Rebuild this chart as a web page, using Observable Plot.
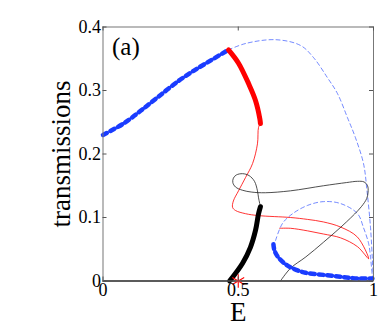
<!DOCTYPE html>
<html><head><meta charset="utf-8">
<script src="https://cdn.jsdelivr.net/npm/d3@7"></script>
<script src="https://cdn.jsdelivr.net/npm/@observablehq/plot@0.6"></script>
<style>body{margin:0;background:#fff}</style>
</head><body><div id="chart"></div>
<script>
// x ticks / y ticks
const xTicks = [0, 0.5, 1];
const yTicks = [0, 0.1, 0.2, 0.3, 0.4];

// thick blue dotted branch (stable, left)
const blueThickE = [0, 0.076, 0.139, 0.201, 0.279, 0.335, 0.397, 0.464];
const blueThickT = [0.23, 0.248, 0.268, 0.289, 0.315, 0.331, 0.347, 0.364];
// thick red branch
const redThickE = [0.464, 0.501, 0.538, 0.564, 0.580, 0.582];
const redThickT = [0.364, 0.343, 0.311, 0.284, 0.255, 0.248];
// thin dashed outer blue branch
const blueDashE = [0.464, 0.527, 0.638, 0.730, 0.778, 0.830, 0.867, 0.904, 0.933, 0.963, 0.976, 0.989, 0.996, 1.0];
const blueDashT = [0.364, 0.374, 0.380, 0.371, 0.352, 0.320, 0.295, 0.257, 0.226, 0.185, 0.142, 0.084, 0.032, 0.0];
// thin red branch with loop and cusp
const redThinE = [0.582, 0.575, 0.571, 0.553, 0.527, 0.501, 0.482, 0.479, 0.490, 0.527, 0.575, 0.693, 0.756, 0.815, 0.878, 0.941, 0.982, 0.941, 0.878, 0.815, 0.756, 0.693, 0.653];
const redThinT = [0.248, 0.242, 0.216, 0.185, 0.163, 0.142, 0.126, 0.116, 0.111, 0.106, 0.103, 0.100, 0.097, 0.093, 0.085, 0.069, 0.035, 0.054, 0.068, 0.074, 0.079, 0.083, 0.083];
// thick black branch
const blackThickE = [0.468, 0.516, 0.545, 0.564, 0.575, 0.582];
const blackThickT = [0.0, 0.028, 0.053, 0.080, 0.106, 0.117];
// thin black branch with loop
const blackThinE = [0.582, 0.575, 0.571, 0.560, 0.540, 0.516, 0.493, 0.482, 0.480, 0.490, 0.515, 0.550, 0.600, 0.693, 0.815, 0.900, 0.941, 0.965, 0.978, 0.980, 0.975, 0.955, 0.900, 0.815, 0.750, 0.693, 0.656];
const blackThinT = [0.117, 0.131, 0.142, 0.157, 0.166, 0.169, 0.167, 0.162, 0.155, 0.148, 0.143, 0.140, 0.139, 0.142, 0.150, 0.155, 0.157, 0.156, 0.150, 0.140, 0.130, 0.117, 0.093, 0.061, 0.038, 0.020, 0.0];
// inner thin dashed blue branch
const blueInnerDashE = [0.638, 0.664, 0.701, 0.756, 0.815, 0.878, 0.941, 0.963, 0.982, 0.989, 0.996];
const blueInnerDashT = [0.064, 0.091, 0.106, 0.119, 0.125, 0.122, 0.106, 0.084, 0.059, 0.037, 0.006];
// inner thick blue dotted branch
const blueInnerE = [0.630, 0.634, 0.645, 0.667, 0.701, 0.749, 0.830, 0.889, 0.941, 0.996];
const blueInnerT = [0.058, 0.048, 0.039, 0.029, 0.020, 0.013, 0.009, 0.006, 0.004, 0.004];
// marker
const starE = [0.5];
const starT = [0];

const pts = (E, T) => E.map((e, i) => ({E: e, T: T[i]}));

const W = 382, H = 327;
const mL = 102.5, mR = 9, mT = 26.5, mB = 46.5;
const pw = W - mL - mR, ph = H - mT - mB;
const serif = "Liberation Serif, Times New Roman, serif";

const chart = Plot.plot({
  width: W, height: H,
  marginLeft: mL, marginRight: mR, marginTop: mT, marginBottom: mB,
  style: {fontFamily: serif, fontSize: "18px", background: "#fff", overflow: "visible"},
  x: {domain: [0, 1]},
  y: {domain: [0, 0.4]},
  marks: [
    Plot.ruleY([0], {stroke: "#000", strokeWidth: 1.3}),
    Plot.line(pts(blueDashE, blueDashT), {x: "E", y: "T", stroke: "#3050ff", strokeWidth: 0.9, strokeDasharray: "4,3", curve: "catmull-rom", strokeOpacity: 0.75}),
    Plot.line(pts(blueInnerDashE, blueInnerDashT), {x: "E", y: "T", stroke: "#3050ff", strokeWidth: 0.9, strokeDasharray: "4,3", curve: "catmull-rom", strokeOpacity: 0.75}),
    Plot.line(pts(redThinE, redThinT), {x: "E", y: "T", stroke: "#ff0000", strokeWidth: 0.8, curve: "catmull-rom"}),
    Plot.line(pts(blackThinE, blackThinT), {x: "E", y: "T", stroke: "#222", strokeWidth: 0.8, curve: "catmull-rom"}),
    Plot.line(pts(blueThickE, blueThickT), {x: "E", y: "T", stroke: "#1a3cff", strokeWidth: 4.5, strokeDasharray: "4.5,4", curve: "catmull-rom"}),
    Plot.line(pts(blueInnerE, blueInnerT), {x: "E", y: "T", stroke: "#1a3cff", strokeWidth: 4.5, strokeDasharray: "4.5,4", curve: "catmull-rom"}),
    Plot.line(pts(redThickE, redThickT), {x: "E", y: "T", stroke: "#ff0000", strokeWidth: 5, curve: "catmull-rom"}),
    Plot.line(pts(blackThickE, blackThickT), {x: "E", y: "T", stroke: "#000", strokeWidth: 5, curve: "catmull-rom"}),
    Plot.dot(pts(starE, starT), {x: "E", y: "T", symbol: "asterisk", r: 6.5, stroke: "#ff0000", strokeWidth: 1.1}),
    Plot.frame({stroke: "#777", strokeWidth: 1}),
    // inward ticks
    Plot.tickY(yTicks, {y: d => d, stroke: "#555", insetRight: pw - 4}),
    Plot.tickY(yTicks, {y: d => d, stroke: "#555", insetLeft: pw - 4}),
    Plot.tickX(xTicks, {x: d => d, stroke: "#555", insetTop: ph - 4}),
    Plot.tickX(xTicks, {x: d => d, stroke: "#555", insetBottom: ph - 4}),
    Plot.axisY({ticks: yTicks, tickSize: 0, tickPadding: 2, fontSize: 18, fontFamily: serif, tickFormat: d => d === 0 ? "0" : d3.format(".1f")(d), label: null, fill: "#000"}),
    Plot.axisX({ticks: xTicks, tickSize: 0, tickPadding: 2, fontSize: 18, fontFamily: serif, tickFormat: d => d === 0.5 ? "0.5" : String(d), label: null, fill: "#000"}),
    Plot.text(["transmissions"], {frameAnchor: "left", textAnchor: "middle", rotate: -90, dx: -42, fontSize: 27, fontFamily: serif, fill: "#000"}),
    Plot.text(["E"], {frameAnchor: "bottom", dy: 40, fontSize: 27, fontFamily: serif, fill: "#000"}),
    Plot.text(["(a)"], {frameAnchor: "top-left", dx: 9, dy: 10, fontSize: 25, fontFamily: serif, textAnchor: "start", fill: "#000"})
  ]
});
document.getElementById("chart").appendChild(chart);
</script>
</body></html>
